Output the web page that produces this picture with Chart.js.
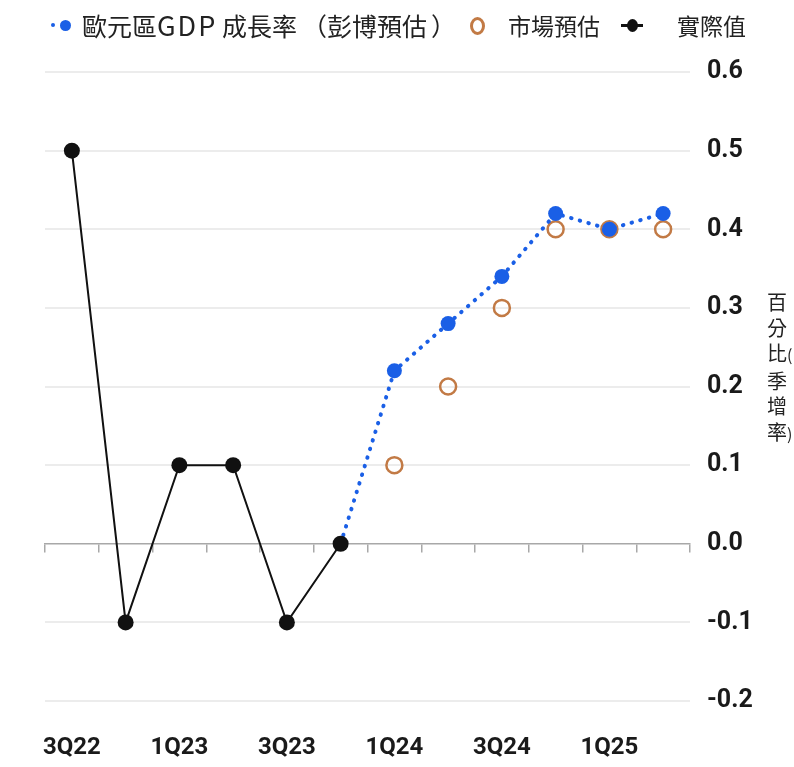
<!DOCTYPE html>
<html>
<head>
<meta charset="utf-8">
<script src="https://cdn.jsdelivr.net/npm/chart.js@4/dist/chart.umd.min.js"></script>
<style>
  html, body { margin: 0; padding: 0; background: #fff; }
  #wrap { position: relative; width: 794px; height: 767px; overflow: hidden; }
  #chart { position: absolute; left: 0; top: 0; }
  .lg-text { position: absolute; top: 8px; font-family: 'Noto Sans CJK TC', 'Noto Sans', sans-serif;
             font-size: 23px; line-height: 34px; color: #222; white-space: nowrap;
             text-spacing-trim: space-all; }
  .dot { position: absolute; border-radius: 50%; }
  .bar { position: absolute; }
  #ytitle { position: absolute; left: 767px; top: 289px; width: 30px;
            font-family: 'Noto Sans CJK TC', sans-serif; font-size: 20px; line-height: 25.5px;
            color: #222; white-space: nowrap; }
  #ytitle span { font-size: 16px; }
</style>
</head>
<body>
<div id="wrap">
  <canvas id="chart" width="794" height="767"></canvas>

  <!-- legend: Bloomberg forecast -->
  <div class="dot" style="left:51px;top:23px;width:4px;height:4px;background:#1a5fe6;"></div>
  <div class="dot" style="left:60px;top:20px;width:11px;height:11px;background:#1a5fe6;"></div>
  <div class="lg-text" style="left:82px;font-size:25px;">歐元區<span style="font-size:27px;letter-spacing:2px">GDP</span></div>
  <div class="lg-text" style="left:222px;font-size:25px;">成長率</div>
  <div class="lg-text" style="left:302px;font-size:25px;">（彭博預估<span style="padding-left:4px">）</span></div>

  <!-- legend: market forecast -->
  <div class="dot" style="left:470px;top:17px;width:9px;height:12px;border:3px solid #c27a45;"></div>
  <div class="lg-text" style="left:508px;">市場預估</div>

  <!-- legend: actual -->
  <div class="bar" style="left:621px;top:24px;width:22px;height:3px;background:#111;"></div>
  <div class="dot" style="left:627px;top:19px;width:11px;height:13px;background:#111;"></div>
  <div class="lg-text" style="left:677px;">實際值</div>

  <div id="ytitle">百<br>分<br>比<span>(</span><br>季<br>增<br>率<span>)</span></div>
</div>

<script>
// Quarterly euro-area GDP growth (% q/q)
const quarters = ['3Q22', '4Q22', '1Q23', '2Q23', '3Q23', '4Q23',
                  '1Q24', '2Q24', '3Q24', '4Q24', '1Q25', '2Q25'];
const actualGrowth      = [0.5, -0.1, 0.1, 0.1, -0.1, 0.0, null, null, null, null, null, null];
const bloombergForecast = [null, null, null, null, null, 0.0, 0.22, 0.28, 0.34, 0.42, 0.40, 0.42];
const marketForecast    = [null, null, null, null, null, null, 0.1, 0.2, 0.3, 0.4, 0.4, 0.4];
const yMin = -0.2, yMax = 0.6, yStep = 0.1;

const BLUE = '#1a5fe6';
const ORANGE = '#c27a45';
const BLACK = '#111111';
const yTickFont = { family: "Roboto, 'DejaVu Sans Condensed', sans-serif", size: 25, weight: 'bold' };
const xTickFont = { family: "Roboto, 'DejaVu Sans Condensed', sans-serif", size: 24, weight: 'bold' };

new Chart(document.getElementById('chart'), {
  type: 'line',
  data: {
    labels: quarters,
    datasets: [
      {
        label: '歐元區GDP成長率（彭博預估）',
        data: bloombergForecast,
        borderColor: BLUE,
        backgroundColor: BLUE,
        borderWidth: 4,
        borderDash: [0.5, 8.5],
        borderCapStyle: 'round',
        pointRadius: ctx => (ctx.dataIndex === 5 ? 0 : 7.5),
        pointBorderWidth: 0,
        pointBackgroundColor: BLUE,
        tension: 0,
        order: 2
      },
      {
        label: '市場預估',
        data: marketForecast,
        showLine: false,
        pointRadius: 8,
        pointBorderWidth: 2.5,
        pointBorderColor: ORANGE,
        pointBackgroundColor: 'rgba(255,255,255,0)',
        order: 3
      },
      {
        label: '實際值',
        data: actualGrowth,
        borderColor: BLACK,
        backgroundColor: BLACK,
        borderWidth: 2,
        pointRadius: 8,
        pointBorderWidth: 0,
        pointBackgroundColor: BLACK,
        tension: 0,
        order: 1
      }
    ]
  },
  options: {
    responsive: false,
    animation: false,
    devicePixelRatio: 1,
    layout: { padding: { left: 45, top: 72, right: 0, bottom: 0 } },
    plugins: { legend: { display: false }, tooltip: { enabled: false } },
    scales: {
      x: {
        type: 'category',
        position: 'bottom',
        offset: true,
        grid: { display: false },
        border: { display: false },
        ticks: {
          autoSkip: false,
          maxRotation: 0,
          padding: 25,
          color: '#1a1a1a',
          font: xTickFont,
          callback: (v, i) => (i % 2 === 0 ? quarters[i] : '')
        },
        afterFit: s => { s.height = 66; }
      },
      xZero: {
        type: 'category',
        position: { y: 0 },
        offset: true,
        grid: { offset: true, drawOnChartArea: false, drawTicks: true, tickLength: 8,
                color: '#a8a8a8', lineWidth: 1.5 },
        border: { display: true, color: '#a8a8a8', width: 1.5 },
        ticks: { display: false }
      },
      y: {
        position: 'right',
        min: yMin,
        max: yMax,
        ticks: {
          stepSize: yStep,
          padding: 17,
          color: '#1a1a1a',
          font: yTickFont,
          callback: v => v.toFixed(1)
        },
        grid: {
          color: ctx => (Math.abs(ctx.tick.value) < 1e-9 ? 'rgba(0,0,0,0)' : '#ececec'),
          lineWidth: 2,
          drawTicks: false
        },
        border: { display: false },
        afterFit: s => { s.width = 104; }
      }
    }
  }
});
</script>
</body>
</html>
